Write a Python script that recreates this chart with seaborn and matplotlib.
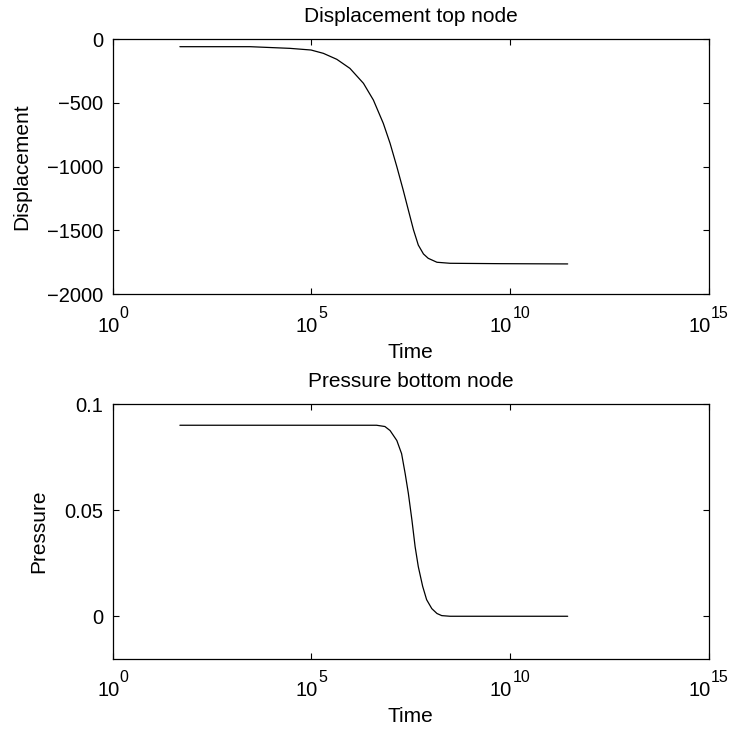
import numpy as np
import pandas as pd
import matplotlib
matplotlib.use("Agg")
import matplotlib.pyplot as plt
import seaborn as sns
from matplotlib.ticker import FixedLocator, FixedFormatter, NullLocator

# ---- data (log10 of time) ----
disp_logt = [1.69, 3.46, 4.46, 4.99, 5.30, 5.64, 5.97, 6.31, 6.56, 6.81, 6.98,
             7.15, 7.31, 7.44, 7.57, 7.69, 7.82, 7.94, 8.16, 8.49, 9.75, 11.45]
disp_vals = [-60, -60, -73, -86, -112, -159, -230, -347, -478, -661, -817,
             -1000, -1183, -1340, -1496, -1614, -1684, -1718, -1749, -1757,
             -1760, -1762]

pres_logt = [1.69, 3.46, 6.64, 6.85, 6.98, 7.15, 7.27, 7.36, 7.44, 7.53, 7.61,
             7.69, 7.80, 7.90, 8.03, 8.16, 8.28, 8.49, 11.45]
pres_vals = [0.090, 0.090, 0.090, 0.0894, 0.0875, 0.0828, 0.0766, 0.0672,
             0.0579, 0.0453, 0.0328, 0.0234, 0.0141, 0.0078, 0.0036, 0.0013,
             0.0003, 0.0, 0.0]

x_tick_exponents = [0, 5, 10, 15]
x_tick_base = "10"
disp_yticks = [0, -500, -1000, -1500, -2000]
disp_ylabels = ["0", "\u2212500", "\u22121000", "\u22121500", "\u22122000"]
pres_yticks = [0, 0.05, 0.1]
pres_ylabels = ["0", "0.05", "0.1"]

sns.set_theme(style="white")
plt.rcParams["font.family"] = ["Liberation Sans", "DejaVu Sans"]
plt.rcParams["axes.unicode_minus"] = True

BASE_FS = 14.5   # pt
SUP_FS = 11.5    # pt
PX2PT = 0.72

fig = plt.figure(figsize=(7.33, 7.31), dpi=100)
ax1 = fig.add_axes([0.1538, 0.5974, 0.8131, 0.3492])
ax2 = fig.add_axes([0.1538, 0.0989, 0.8131, 0.3484])

df1 = pd.DataFrame({"Time": np.power(10.0, disp_logt), "Displacement": disp_vals})
df2 = pd.DataFrame({"Time": np.power(10.0, pres_logt), "Pressure": pres_vals})

sns.lineplot(data=df1, x="Time", y="Displacement", ax=ax1, color="black",
             linewidth=0.9, sort=False)
sns.lineplot(data=df2, x="Time", y="Pressure", ax=ax2, color="black",
             linewidth=0.9, sort=False)

x_ticks = [10.0 ** e for e in x_tick_exponents]

for ax, yt, yl, ylim, title, ylab in [
    (ax1, disp_yticks, disp_ylabels, (-2000, 0), "Displacement top node", "Displacement"),
    (ax2, pres_yticks, pres_ylabels, (-0.02, 0.1), "Pressure bottom node", "Pressure"),
]:
    ax.set_xscale("log")
    ax.set_xlim(1e0, 1e15)
    ax.set_ylim(*ylim)
    ax.xaxis.set_major_locator(FixedLocator(x_ticks))
    ax.xaxis.set_major_formatter(FixedFormatter([""] * len(x_ticks)))
    ax.xaxis.set_minor_locator(NullLocator())
    ax.yaxis.set_major_locator(FixedLocator(yt))
    ax.yaxis.set_major_formatter(FixedFormatter(yl))
    ax.tick_params(axis="both", which="major", direction="in", length=4.3, width=0.8,
                   top=True, right=True, bottom=True, left=True,
                   labelsize=BASE_FS, colors="black")
    ax.tick_params(axis="y", pad=7)
    for s in ax.spines.values():
        s.set_visible(True)
        s.set_color("black")
        s.set_linewidth(0.9)
    ax.set_facecolor("white")
    ax.set_title(title, fontsize=15, pad=12.5, color="black")
    ax.set_xlabel("Time", fontsize=15, color="black")
    ax.xaxis.set_label_coords(0.5, -0.19)
    ax.set_ylabel(ylab, fontsize=15, labelpad=11, color="black")

    # MATLAB-style tick labels: "10" with a raised exponent
    em_base = BASE_FS / 0.72
    em_sup = SUP_FS / 0.72
    w_base = 0.556 * len(x_tick_base) * em_base
    for tick, e in zip(x_ticks, x_tick_exponents):
        s = str(e)
        w_sup = 0.556 * len(s) * em_sup
        left = -(w_base + w_sup) / 2.0
        ax.annotate(x_tick_base, xy=(tick, 0), xycoords=("data", "axes fraction"),
                    xytext=(left * PX2PT, -27.0), textcoords="offset points",
                    ha="left", va="baseline", fontsize=BASE_FS, color="black",
                    annotation_clip=False)
        ax.annotate(s, xy=(tick, 0), xycoords=("data", "axes fraction"),
                    xytext=((left + w_base) * PX2PT, -17.0), textcoords="offset points",
                    ha="left", va="baseline", fontsize=SUP_FS, color="black",
                    annotation_clip=False)

fig.savefig("out.png", dpi=100, facecolor="white")
